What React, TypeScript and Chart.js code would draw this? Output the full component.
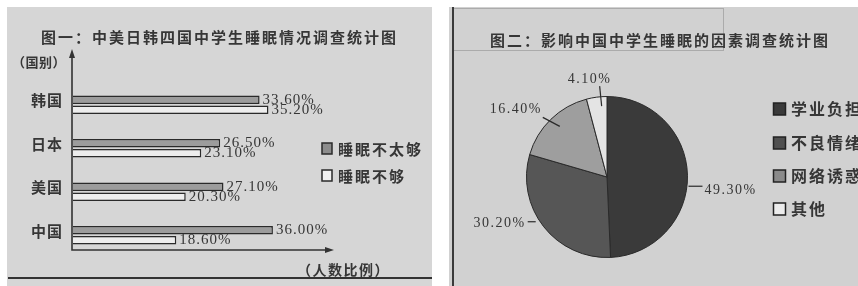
import React, { useEffect, useRef } from "react";
import { Chart, registerables } from "chart.js";

Chart.register(...registerables);

// ---------- data ----------
const title1 = "图一：中美日韩四国中学生睡眠情况调查统计图";
const title2 = "图二：影响中国中学生睡眠的因素调查统计图";
const yAxisName = "（国别）";
const xAxisName = "（人数比例）";

const countries = ["韩国", "日本", "美国", "中国"];
const seriesNames = ["睡眠不太够", "睡眠不够"];
const notQuiteEnough = [33.6, 26.5, 27.1, 36.0];
const notEnough = [35.2, 23.1, 20.3, 18.6];
const xAxisMax = 47;

const factors = ["学业负担", "不良情绪", "网络诱惑", "其他"];
const factorShares = [49.3, 30.2, 16.4, 4.1];

// ---------- style ----------
const CJK = '"Noto Sans CJK SC", sans-serif';
const NUM = '"Liberation Serif", "Noto Sans CJK SC", serif';
const INK = "#363636";
const LEFT_BG = "#d6d6d6";
const RIGHT_BG = "#d1d1d1";
const barColors = ["#9c9c9c", "#ededed"];
const pieColors = ["#3a3a3a", "#565656", "#9e9e9e", "#e4e4e4"];
const pieLegendColors = ["#3a3a3a", "#505050", "#8a8a8a", "#ececec"];

// leader-line / label offsets relative to slice edge at mid-angle
const pieLabelStyle = [
  { l0: [1, 11], l1: [15, 11], t: [17, 15], align: "left" },
  { l0: [-8, -5], l1: [-16, -5], t: [-18, -3], align: "right" },
  { l0: [9, 7], l1: [-8, -2], t: [-9, -10], align: "right" },
  { l0: [5, 9], l1: [3, -11], t: [-7, -18], align: "center" },
];

function txt(
  ctx: CanvasRenderingContext2D,
  s: string,
  x: number,
  y: number,
  font: string,
  align: CanvasTextAlign = "left",
  spacing = 0,
  color = INK
) {
  ctx.save();
  ctx.font = font;
  (ctx as any).letterSpacing = spacing + "px";
  ctx.fillStyle = color;
  ctx.textAlign = align;
  ctx.textBaseline = "middle";
  ctx.fillText(s, x, y);
  ctx.restore();
}

function BarPanel() {
  const ref = useRef<HTMLCanvasElement>(null);
  useEffect(() => {
    const canvas = ref.current!;
    const deco = {
      id: "barDeco",
      beforeDraw(chart: any) {
        const ctx = chart.ctx as CanvasRenderingContext2D;
        ctx.save();
        ctx.fillStyle = "#ffffff";
        ctx.fillRect(0, 0, chart.width, chart.height);
        ctx.fillStyle = LEFT_BG;
        ctx.fillRect(7, 7, 425, 279);
        ctx.fillStyle = "#333";
        ctx.fillRect(8, 277, 424, 2);
        ctx.restore();
        txt(ctx, title1, 41, 37, "bold 15px " + CJK, "left", 2);
        txt(ctx, yAxisName, 12, 62, "bold 13px " + CJK, "left", 0.5);
        txt(ctx, xAxisName, 297, 270, "bold 14px " + CJK, "left", 1.5);
      },
      beforeDatasetsDraw(chart: any) {
        const ctx = chart.ctx as CanvasRenderingContext2D;
        const xs = chart.scales.x;
        const x0 = Math.round(xs.getPixelForValue(0)) - 1;
        const yb = Math.round(chart.chartArea.bottom) - 7;
        const xEnd = xs.getPixelForValue(xAxisMax) - 2;
        ctx.save();
        ctx.strokeStyle = "#333";
        ctx.fillStyle = "#333";
        ctx.lineWidth = 1.6;
        ctx.beginPath();
        ctx.moveTo(x0, 56);
        ctx.lineTo(x0, yb);
        ctx.lineTo(xEnd - 4, yb);
        ctx.stroke();
        ctx.beginPath();
        ctx.moveTo(x0, 49);
        ctx.lineTo(x0 - 3, 58);
        ctx.lineTo(x0 + 3, 58);
        ctx.closePath();
        ctx.fill();
        ctx.beginPath();
        ctx.moveTo(xEnd + 2, yb);
        ctx.lineTo(xEnd - 7, yb - 3);
        ctx.lineTo(xEnd - 7, yb + 3);
        ctx.closePath();
        ctx.fill();
        ctx.restore();
      },
      afterDraw(chart: any) {
        const ctx = chart.ctx as CanvasRenderingContext2D;
        const ys = chart.scales.y;
        countries.forEach((c, i) => {
          txt(ctx, c, 63, ys.getPixelForValue(i) - 4, "bold 15px " + CJK, "right", 1);
        });
        chart.data.datasets.forEach((ds: any, di: number) => {
          const meta = chart.getDatasetMeta(di);
          meta.data.forEach((el: any, i: number) => {
            txt(ctx, ds.data[i].toFixed(2) + "%", el.x + 3, el.y, "15px " + NUM, "left", 1);
          });
          // legend
          const ly = 149 + di * 27;
          ctx.save();
          ctx.fillStyle = di === 0 ? "#8c8c8c" : "#f2f2f2";
          ctx.strokeStyle = "#2a2a2a";
          ctx.lineWidth = 1.5;
          ctx.fillRect(322, ly - 6, 10, 11);
          ctx.strokeRect(322, ly - 6, 10, 11);
          ctx.restore();
          txt(ctx, ds.label, 338, ly, "bold 15px " + CJK, "left", 2);
        });
      },
    };
    const chart = new Chart(canvas, {
      type: "bar",
      data: {
        labels: countries,
        datasets: [
          {
            label: seriesNames[0],
            data: notQuiteEnough,
            backgroundColor: barColors[0],
            borderColor: "#2a2a2a",
            borderWidth: 1.5,
            categoryPercentage: 0.46,
            barPercentage: 0.85,
          },
          {
            label: seriesNames[1],
            data: notEnough,
            backgroundColor: barColors[1],
            borderColor: "#2a2a2a",
            borderWidth: 1.5,
            categoryPercentage: 0.46,
            barPercentage: 0.85,
          },
        ],
      },
      options: {
        indexAxis: "y",
        responsive: false,
        animation: false,
        devicePixelRatio: 1,
        layout: { padding: { left: 73, right: 98, top: 83, bottom: 29 } },
        plugins: { legend: { display: false }, title: { display: false }, tooltip: { enabled: false } },
        scales: {
          x: { display: false, min: 0, max: xAxisMax },
          y: { display: false },
        },
      },
      plugins: [deco],
    } as any);
    return () => chart.destroy();
  }, []);
  return (
    <canvas
      ref={ref}
      width={432}
      height={286}
      style={{ position: "absolute", left: 0, top: 0, width: 432, height: 286, display: "block" }}
    />
  );
}

function PiePanel() {
  const ref = useRef<HTMLCanvasElement>(null);
  useEffect(() => {
    const canvas = ref.current!;
    const deco = {
      id: "pieDeco",
      beforeDraw(chart: any) {
        const ctx = chart.ctx as CanvasRenderingContext2D;
        ctx.save();
        ctx.fillStyle = "#ffffff";
        ctx.fillRect(0, 0, chart.width, chart.height);
        ctx.fillStyle = RIGHT_BG;
        ctx.fillRect(0, 7, chart.width, 279);
        ctx.strokeStyle = "#ababab";
        ctx.lineWidth = 1;
        ctx.strokeRect(4.5, 8.5, 270, 42);
        ctx.fillStyle = "#3a3a3a";
        ctx.fillRect(3, 7, 2, 279);
        ctx.restore();
        txt(ctx, title2, 41, 40, "bold 15px " + CJK, "left", 2);
      },
      afterDraw(chart: any) {
        const ctx = chart.ctx as CanvasRenderingContext2D;
        const meta = chart.getDatasetMeta(0);
        meta.data.forEach((arc: any, i: number) => {
          const mid = (arc.startAngle + arc.endAngle) / 2;
          const ex = arc.x + arc.outerRadius * Math.cos(mid);
          const ey = arc.y + arc.outerRadius * Math.sin(mid);
          const st = pieLabelStyle[i];
          ctx.save();
          ctx.strokeStyle = "#2a2a2a";
          ctx.lineWidth = 1.2;
          ctx.beginPath();
          ctx.moveTo(ex + st.l0[0], ey + st.l0[1]);
          ctx.lineTo(ex + st.l1[0], ey + st.l1[1]);
          ctx.stroke();
          ctx.restore();
          txt(
            ctx,
            factorShares[i].toFixed(2) + "%",
            ex + st.t[0],
            ey + st.t[1],
            "14px " + NUM,
            st.align as CanvasTextAlign,
            1.5
          );
        });
        const rows = [109, 143, 176, 209];
        factors.forEach((f, i) => {
          ctx.save();
          ctx.fillStyle = pieLegendColors[i];
          ctx.strokeStyle = "#222";
          ctx.lineWidth = 1.5;
          ctx.fillRect(324.5, rows[i] - 6, 12, 12);
          ctx.strokeRect(324.5, rows[i] - 6, 12, 12);
          ctx.restore();
          txt(ctx, f, 342, rows[i], "bold 16px " + CJK, "left", 2);
        });
      },
    };
    const chart = new Chart(canvas, {
      type: "pie",
      data: {
        labels: factors,
        datasets: [
          {
            data: factorShares,
            backgroundColor: pieColors,
            borderColor: "#2a2a2a",
            borderWidth: 1,
          },
        ],
      },
      options: {
        responsive: false,
        animation: false,
        devicePixelRatio: 1,
        layout: { padding: { left: 77, right: 170, top: 96, bottom: 28 } },
        plugins: { legend: { display: false }, title: { display: false }, tooltip: { enabled: false } },
      },
      plugins: [deco],
    } as any);
    return () => chart.destroy();
  }, []);
  return (
    <canvas
      ref={ref}
      width={409}
      height={286}
      style={{ position: "absolute", left: 449, top: 0, width: 409, height: 286, display: "block" }}
    />
  );
}

export default function App() {
  return (
    <div
      style={{
        position: "fixed",
        left: 0,
        top: 0,
        width: 858,
        height: 286,
        overflow: "hidden",
        background: "#ffffff",
      }}
    >
      <BarPanel />
      <PiePanel />
    </div>
  );
}
